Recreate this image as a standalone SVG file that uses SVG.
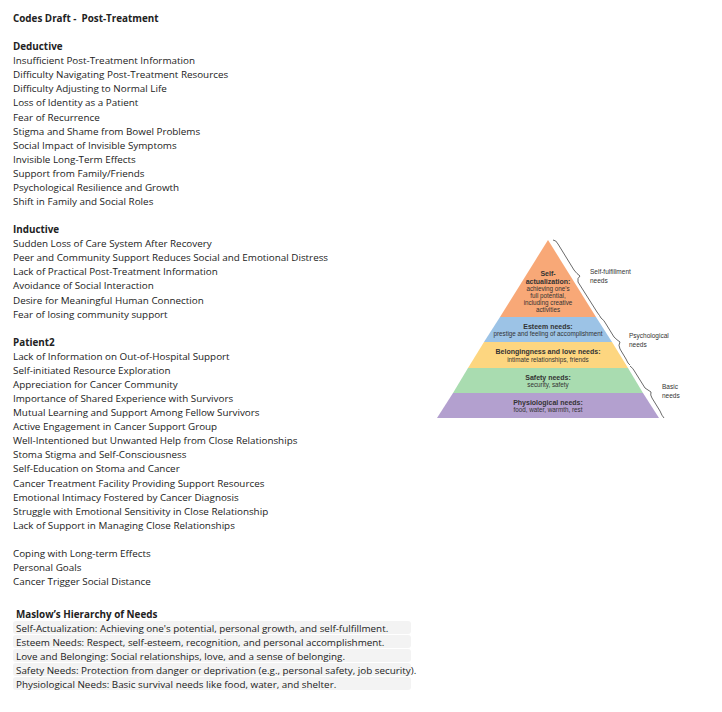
<svg xmlns="http://www.w3.org/2000/svg" width="722" height="712" viewBox="0 0 722 712">
<style>
text{font-family:"Open Sans","Noto Sans",sans-serif;font-size:9.85px;fill:#222}
.b{font-weight:bold}
.p{font-family:"Liberation Sans",sans-serif;font-size:6.3px;fill:#333;text-anchor:middle}
.pb{font-family:"Liberation Sans",sans-serif;font-size:7px;font-weight:bold;fill:#333;text-anchor:middle}
.pl{font-family:"Liberation Sans",sans-serif;font-size:6.5px;fill:#333}
.bg{fill:#f3f3f3}
.br{fill:none;stroke:#444;stroke-width:0.8}
</style>
<rect width="722" height="712" fill="#fff"/>
<g id="text">
<text x="13" y="22" class="b" xml:space="preserve">Codes Draft -  Post-Treatment</text>
<text x="13" y="50" class="b">Deductive</text>
<text x="13" y="64">Insufficient Post-Treatment Information</text>
<text x="13" y="78">Difficulty Navigating Post-Treatment Resources</text>
<text x="13" y="92">Difficulty Adjusting to Normal Life</text>
<text x="13" y="106">Loss of Identity as a Patient</text>
<text x="13" y="121">Fear of Recurrence</text>
<text x="13" y="135">Stigma and Shame from Bowel Problems</text>
<text x="13" y="149">Social Impact of Invisible Symptoms</text>
<text x="13" y="163">Invisible Long-Term Effects</text>
<text x="13" y="177">Support from Family/Friends</text>
<text x="13" y="191">Psychological Resilience and Growth</text>
<text x="13" y="205">Shift in Family and Social Roles</text>
<text x="13" y="233" class="b">Inductive</text>
<text x="13" y="247">Sudden Loss of Care System After Recovery</text>
<text x="13" y="261">Peer and Community Support Reduces Social and Emotional Distress</text>
<text x="13" y="275">Lack of Practical Post-Treatment Information</text>
<text x="13" y="289">Avoidance of Social Interaction</text>
<text x="13" y="304">Desire for Meaningful Human Connection</text>
<text x="13" y="318">Fear of losing community support</text>
<text x="13" y="346" class="b">Patient2</text>
<text x="13" y="360">Lack of Information on Out-of-Hospital Support</text>
<text x="13" y="374">Self-initiated Resource Exploration</text>
<text x="13" y="388">Appreciation for Cancer Community</text>
<text x="13" y="402">Importance of Shared Experience with Survivors</text>
<text x="13" y="416">Mutual Learning and Support Among Fellow Survivors</text>
<text x="13" y="430">Active Engagement in Cancer Support Group</text>
<text x="13" y="444">Well-Intentioned but Unwanted Help from Close Relationships</text>
<text x="13" y="458">Stoma Stigma and Self-Consciousness</text>
<text x="13" y="472">Self-Education on Stoma and Cancer</text>
<text x="13" y="487">Cancer Treatment Facility Providing Support Resources</text>
<text x="13" y="501">Emotional Intimacy Fostered by Cancer Diagnosis</text>
<text x="13" y="515">Struggle with Emotional Sensitivity in Close Relationship</text>
<text x="13" y="529">Lack of Support in Managing Close Relationships</text>
<text x="13" y="557">Coping with Long-term Effects</text>
<text x="13" y="571">Personal Goals</text>
<text x="13" y="585">Cancer Trigger Social Distance</text>
</g>
<g id="maslow-table">
<rect class="bg" x="13" y="621" width="398" height="13" rx="3"/>
<rect class="bg" x="13" y="635" width="398" height="13" rx="3"/>
<rect class="bg" x="13" y="649" width="398" height="13" rx="3"/>
<rect class="bg" x="13" y="663" width="398" height="13" rx="3"/>
<rect class="bg" x="13" y="677" width="398" height="13" rx="3"/>
<text x="16" y="618" class="b">Maslow’s Hierarchy of Needs</text>
<text x="16" y="632">Self-Actualization: Achieving one's potential, personal growth, and self-fulfillment.</text>
<text x="16" y="646">Esteem Needs: Respect, self-esteem, recognition, and personal accomplishment.</text>
<text x="16" y="660">Love and Belonging: Social relationships, love, and a sense of belonging.</text>
<text x="16" y="674">Safety Needs: Protection from danger or deprivation (e.g., personal safety, job security).</text>
<text x="16" y="688">Physiological Needs: Basic survival needs like food, water, and shelter.</text>
</g>
<g id="pyramid">
<polygon points="548,240 500,317 596,317" fill="#f8a877"/>
<polygon points="500,317 596,317 612,342 484,342" fill="#9cc3e6"/>
<polygon points="484,342 612,342 628,368 468,368" fill="#fdd680"/>
<polygon points="468,368 628,368 643,393 453,393" fill="#a9dcb0"/>
<polygon points="453,393 643,393 659,418 437,418" fill="#b3a0cf"/>
<text class="pb" x="548" y="276">Self-</text>
<text class="pb" x="548" y="284">actualization:</text>
<text class="p" x="548" y="291">achieving one's</text>
<text class="p" x="548" y="298">full potential,</text>
<text class="p" x="548" y="305">including creative</text>
<text class="p" x="548" y="312">activities</text>
<text class="pb" x="548" y="329">Esteem needs:</text>
<text class="p" x="548" y="336">prestige and feeling of accomplishment</text>
<text class="pb" x="548" y="354">Belongingness and love needs:</text>
<text class="p" x="548" y="362">intimate relationships, friends</text>
<text class="pb" x="548" y="380">Safety needs:</text>
<text class="p" x="548" y="387">security, safety</text>
<text class="pb" x="548" y="405">Physiological needs:</text>
<text class="p" x="548" y="412">food, water, warmth, rest</text>
<path class="br" d="M553,240 Q556,240 558,244 L574,270 Q577,274 580,276 Q577,278 578,282 L597,312 Q600,316 601,318"/>
<path class="br" d="M601,318 Q604,320 606,324 L614,337 Q617,340 620,342 Q618,345 620,349 L626,359 Q628,364 630,365"/>
<path class="br" d="M630,366 Q633,368 635,372 L645,388 Q648,390 651,392 Q650,395 652,398 L660,411 Q662,416 664,418"/>
<text class="pl" x="590" y="274">Self-fulfillment</text>
<text class="pl" x="590" y="283">needs</text>
<text class="pl" x="629" y="338">Psychological</text>
<text class="pl" x="629" y="347">needs</text>
<text class="pl" x="662" y="389">Basic</text>
<text class="pl" x="662" y="398">needs</text>
</g>
</svg>
